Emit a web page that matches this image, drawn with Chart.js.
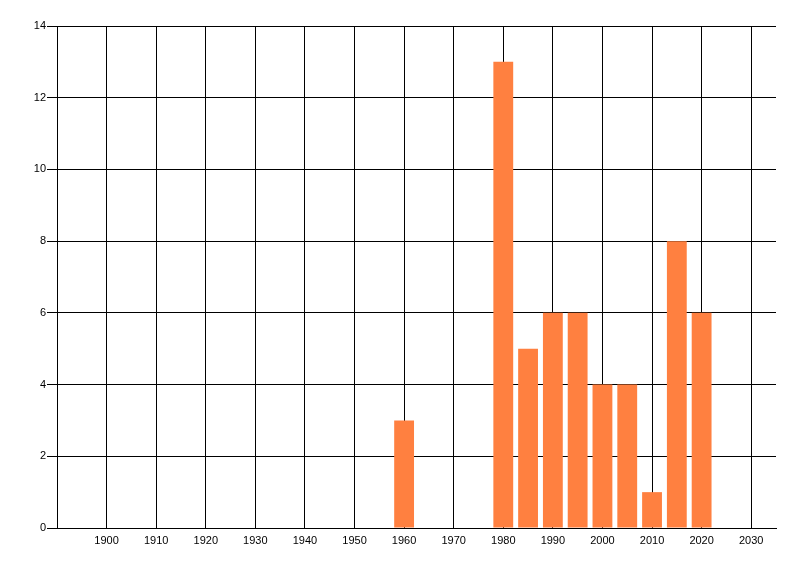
<!DOCTYPE html>
<html>
<head>
<meta charset="utf-8">
<script src="https://cdn.jsdelivr.net/npm/chart.js@4/dist/chart.umd.min.js"></script>
<style>
	html, body { margin: 0; padding: 0; background: #fff; }
	.canvas-container { width: 800px; height: 576px; position: relative; }
</style>
</head>
<body>
<div class="canvas-container">
	<canvas id="canvas"></canvas>
</div>
<script>
// values
var years = [1960, 1980, 1985, 1990, 1995, 2000, 2005, 2010, 2015, 2020];
var counts = [3, 13, 5, 6, 6, 4, 4, 1, 8, 6];
var xTicks = [1900, 1910, 1920, 1930, 1940, 1950, 1960, 1970, 1980, 1990, 2000, 2010, 2020, 2030];
var yTicks = [0, 2, 4, 6, 8, 10, 12, 14];

var points = years.map(function (y, i) {
	return { x: y, y: counts[i] };
});

var ctx = document.getElementById("canvas").getContext("2d");
var chart = new Chart(ctx, {
	type: "bar",
	data: {
		datasets: [
			{
				label: "",
				data: points,
				backgroundColor: "#ff8040",
				borderWidth: 0,
				barPercentage: 0.8,
				categoryPercentage: 1.0,
			},
		],
	},
	options: {
		responsive: true,
		maintainAspectRatio: false,
		animation: false,
		layout: { padding: { top: 26, right: 24, bottom: 0, left: 0 } },
		plugins: {
			legend: { display: false },
			tooltip: { enabled: false },
		},
		scales: {
			x: {
				type: "linear",
				min: 1890,
				max: 2035,
				offset: false,
				afterBuildTicks: function (scale) {
					scale.ticks = xTicks.map(function (v) { return { value: v }; });
				},
				afterFit: function (scale) { scale.height = 48; },
				grid: { color: "#000", lineWidth: 1, drawTicks: false, offset: false },
				border: { color: "#000", width: 1 },
				ticks: {
					color: "#000",
					padding: 6,
					maxRotation: 0,
					autoSkip: false,
					font: { family: "Liberation Sans", size: 11 },
					callback: function (v) { return String(v); },
				},
			},
			y: {
				min: 0,
				max: 14,
				afterBuildTicks: function (scale) {
					scale.ticks = yTicks.map(function (v) { return { value: v }; });
				},
				afterFit: function (scale) { scale.width = 57; },
				grid: { color: "#000", lineWidth: 1, tickLength: 10 },
				border: { color: "#000", width: 1 },
				ticks: {
					color: "#000",
					padding: 1,
					font: { family: "Liberation Sans", size: 11 },
				},
			},
		},
	},
});
</script>
</body>
</html>
